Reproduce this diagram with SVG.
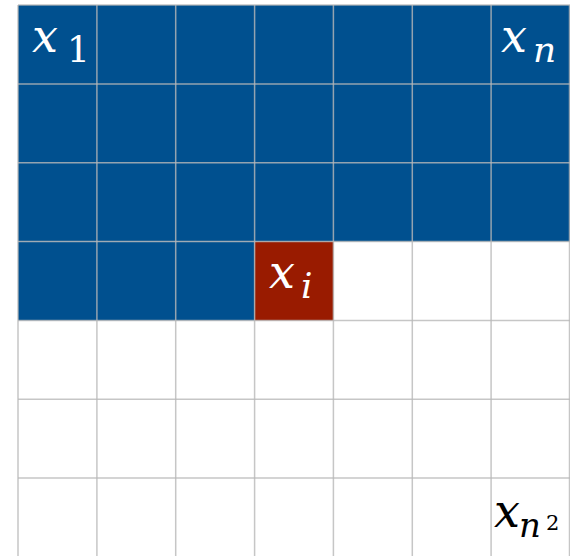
<svg xmlns="http://www.w3.org/2000/svg" width="570" height="556" viewBox="0 0 570 556">
<defs>
<style>
.blue{fill:#00508f}
.red{fill:#991b00}
.gl{stroke:#b8b8b8;stroke-opacity:0.8;stroke-width:1.5}
</style>
</defs>
<rect width="570" height="556" fill="#ffffff"/>
<rect class="blue" x="18" y="5" width="552" height="236.6"/>
<rect class="blue" x="18" y="241.6" width="236.6" height="78.9"/>
<rect class="red" x="254.6" y="241.6" width="78.9" height="78.9"/>
<g class="gl">
<line x1="18" y1="5" x2="18" y2="556"/>
<line x1="96.9" y1="5" x2="96.9" y2="556"/>
<line x1="175.7" y1="5" x2="175.7" y2="556"/>
<line x1="254.6" y1="5" x2="254.6" y2="556"/>
<line x1="333.4" y1="5" x2="333.4" y2="556"/>
<line x1="412.3" y1="5" x2="412.3" y2="556"/>
<line x1="491.1" y1="5" x2="491.1" y2="556"/>
<line x1="569.5" y1="5" x2="569.5" y2="556"/>
<line x1="18" y1="5" x2="570" y2="5"/>
<line x1="18" y1="83.9" x2="570" y2="83.9"/>
<line x1="18" y1="162.7" x2="570" y2="162.7"/>
<line x1="18" y1="241.6" x2="570" y2="241.6"/>
<line x1="18" y1="320.4" x2="570" y2="320.4"/>
<line x1="18" y1="399.3" x2="570" y2="399.3"/>
<line x1="18" y1="478.1" x2="570" y2="478.1"/>
</g>
<text x="32" y="52" font-size="46" font-family="DejaVu Serif" font-style="italic" fill="#ffffff">x</text>
<text x="67" y="62" font-size="36" font-family="DejaVu Serif" fill="#ffffff">1</text>
<text x="501" y="52" font-size="46" font-family="DejaVu Serif" font-style="italic" fill="#ffffff">x</text>
<text x="533" y="62" font-size="36" font-family="DejaVu Serif" font-style="italic" fill="#ffffff">n</text>
<text x="269" y="288" font-size="46" font-family="DejaVu Serif" font-style="italic" fill="#ffffff">x</text>
<text x="301" y="298" font-size="36" font-family="DejaVu Serif" font-style="italic" fill="#ffffff">i</text>
<text x="494" y="527" font-size="46" font-family="DejaVu Serif" font-style="italic" fill="#000000">x</text>
<text x="519" y="537" font-size="34" font-family="DejaVu Serif" font-style="italic" fill="#000000">n</text>
<text x="546" y="530" font-size="21" font-family="DejaVu Serif" fill="#000000">2</text>
</svg>
